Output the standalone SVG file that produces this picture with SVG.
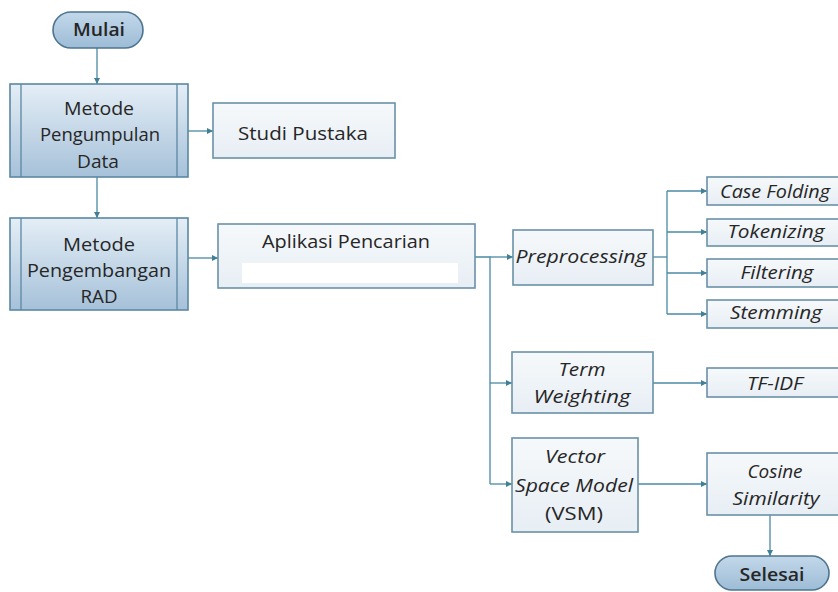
<svg xmlns="http://www.w3.org/2000/svg" width="838" height="592" viewBox="0 0 838 592">
<defs>
<linearGradient id="gBlue" x1="0" y1="0" x2="0" y2="1">
<stop offset="0" stop-color="#e4eef6"/>
<stop offset="1" stop-color="#a6c1d9"/>
</linearGradient>
<linearGradient id="gOval" x1="0" y1="0" x2="0" y2="1">
<stop offset="0" stop-color="#c3d8ea"/>
<stop offset="1" stop-color="#9dbcd6"/>
</linearGradient>
<linearGradient id="gLight" x1="0" y1="0" x2="0" y2="1">
<stop offset="0" stop-color="#f6f9fb"/>
<stop offset="1" stop-color="#e7eef4"/>
</linearGradient>
<marker id="arr" viewBox="0 0 10 10" refX="10" refY="5" markerWidth="6" markerHeight="6" markerUnits="userSpaceOnUse" orient="auto">
<path d="M0,0 L10,5 L0,10 z" fill="#3f7f97"/>
</marker>
<style>
.t{font-family:"Open Sans","Noto Sans","Liberation Sans",sans-serif;font-size:18.5px;fill:#262626;text-anchor:middle}
.i{font-style:italic}
.b{font-weight:600}
.main{fill:url(#gBlue);stroke:#5b87a3;stroke-width:1.6}
.inner{stroke:#5b87a3;stroke-width:1.3;fill:none}
.oval{fill:url(#gOval);stroke:#4d7490;stroke-width:1.6}
.box{fill:url(#gLight);stroke:#6a92a8;stroke-width:1.6}
.c{fill:none;stroke:#4a8aa3;stroke-width:1.3}
.ca{fill:none;stroke:#4a8aa3;stroke-width:1.3;marker-end:url(#arr)}
</style>
</defs>
<rect width="838" height="592" fill="#ffffff"/>

<g id="connectors">
<line class="ca" x1="97" y1="48" x2="97" y2="84"/>
<line class="ca" x1="97" y1="177" x2="97" y2="218"/>
<line class="ca" x1="188" y1="131" x2="213" y2="131"/>
<line class="ca" x1="188" y1="258" x2="218" y2="258"/>
<polyline class="c" points="475,257 490,257 490,484"/>
<line class="ca" x1="490" y1="257" x2="513" y2="257"/>
<line class="ca" x1="490" y1="383" x2="512" y2="383"/>
<line class="ca" x1="490" y1="484" x2="512" y2="484"/>
<polyline class="c" points="653,257 667,257"/>
<line class="c" x1="667" y1="191" x2="667" y2="314"/>
<line class="ca" x1="667" y1="191" x2="707" y2="191"/>
<line class="ca" x1="667" y1="232" x2="707" y2="232"/>
<line class="ca" x1="667" y1="273" x2="707" y2="273"/>
<line class="ca" x1="667" y1="314" x2="707" y2="314"/>
<line class="ca" x1="653" y1="383" x2="707" y2="383"/>
<line class="ca" x1="638" y1="484" x2="707" y2="484"/>
<line class="ca" x1="770" y1="515" x2="770" y2="556"/>
</g>

<g id="mulai">
<rect class="oval" x="53" y="12" width="90" height="36" rx="18"/>
<text class="t b" x="99" y="36" textLength="52" lengthAdjust="spacingAndGlyphs">Mulai</text>
</g>

<g id="metode-pengumpulan">
<rect class="main" x="10" y="84" width="178" height="93"/>
<line class="inner" x1="21" y1="84" x2="21" y2="177"/>
<line class="inner" x1="177" y1="84" x2="177" y2="177"/>
<text class="t" x="99" y="115" textLength="70" lengthAdjust="spacingAndGlyphs">Metode</text>
<text class="t" x="100" y="141" textLength="120" lengthAdjust="spacingAndGlyphs">Pengumpulan</text>
<text class="t" x="98" y="168" textLength="42" lengthAdjust="spacingAndGlyphs">Data</text>
</g>

<g id="studi-pustaka">
<rect class="box" x="213" y="103" width="182" height="55"/>
<text class="t" x="303" y="140" textLength="130" lengthAdjust="spacingAndGlyphs">Studi Pustaka</text>
</g>

<g id="metode-pengembangan">
<rect class="main" x="10" y="218" width="178" height="92"/>
<line class="inner" x1="21" y1="218" x2="21" y2="310"/>
<line class="inner" x1="177" y1="218" x2="177" y2="310"/>
<text class="t" x="99" y="251" textLength="72" lengthAdjust="spacingAndGlyphs">Metode</text>
<text class="t" x="99" y="277" textLength="144" lengthAdjust="spacingAndGlyphs">Pengembangan</text>
<text class="t" x="99" y="303" textLength="37" lengthAdjust="spacingAndGlyphs">RAD</text>
</g>

<g id="aplikasi-pencarian">
<rect class="box" x="218" y="224" width="257" height="64"/>
<rect x="242" y="263" width="216" height="20" fill="#ffffff"/>
<text class="t" x="346" y="248" textLength="168" lengthAdjust="spacingAndGlyphs">Aplikasi Pencarian</text>
</g>

<g id="preprocessing">
<rect class="box" x="513" y="230" width="140" height="55"/>
<text class="t i" x="581" y="263" textLength="131" lengthAdjust="spacingAndGlyphs">Preprocessing</text>
</g>

<g id="case-folding">
<rect class="box" x="707" y="177" width="145" height="28"/>
<text class="t i" x="775" y="198" textLength="110" lengthAdjust="spacingAndGlyphs">Case Folding</text>
</g>

<g id="tokenizing">
<rect class="box" x="707" y="219" width="145" height="27"/>
<text class="t i" x="776" y="238" textLength="97" lengthAdjust="spacingAndGlyphs">Tokenizing</text>
</g>

<g id="filtering">
<rect class="box" x="707" y="259" width="145" height="28"/>
<text class="t i" x="777" y="279" textLength="73" lengthAdjust="spacingAndGlyphs">Filtering</text>
</g>

<g id="stemming">
<rect class="box" x="707" y="300" width="145" height="28"/>
<text class="t i" x="776" y="319" textLength="92" lengthAdjust="spacingAndGlyphs">Stemming</text>
</g>

<g id="term-weighting">
<rect class="box" x="512" y="352" width="141" height="61"/>
<text class="t i" x="582" y="376" textLength="47" lengthAdjust="spacingAndGlyphs">Term</text>
<text class="t i" x="582" y="403" textLength="97" lengthAdjust="spacingAndGlyphs">Weighting</text>
</g>

<g id="tf-idf">
<rect class="box" x="707" y="368" width="145" height="29"/>
<text class="t i" x="775" y="390" textLength="56" lengthAdjust="spacingAndGlyphs">TF-IDF</text>
</g>

<g id="vsm">
<rect class="box" x="512" y="438" width="126" height="94"/>
<text class="t i" x="575" y="463" textLength="60" lengthAdjust="spacingAndGlyphs">Vector</text>
<text class="t i" x="574" y="492" textLength="118" lengthAdjust="spacingAndGlyphs">Space Model</text>
<text class="t" x="574" y="520" textLength="58" lengthAdjust="spacingAndGlyphs">(VSM)</text>
</g>

<g id="cosine-similarity">
<rect class="box" x="707" y="453" width="145" height="62"/>
<text class="t i" x="775" y="478" textLength="55" lengthAdjust="spacingAndGlyphs">Cosine</text>
<text class="t i" x="776" y="505" textLength="87" lengthAdjust="spacingAndGlyphs">Similarity</text>
</g>

<g id="selesai">
<rect class="oval" x="715" y="556" width="114" height="34" rx="17"/>
<text class="t b" x="772" y="581" textLength="65" lengthAdjust="spacingAndGlyphs">Selesai</text>
</g>
</svg>
